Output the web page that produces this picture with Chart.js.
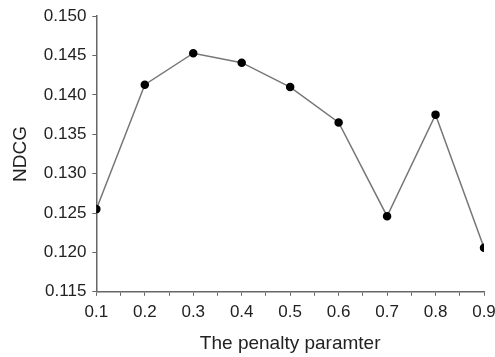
<!DOCTYPE html>
<html>
<head>
<meta charset="utf-8">
<script src="https://cdn.jsdelivr.net/npm/chart.js@4/dist/chart.umd.min.js"></script>
<style>
  html, body { margin: 0; padding: 0; background: #fff; }
  #wrap { width: 495px; height: 357px; }
</style>
</head>
<body>
<div id="wrap"><canvas id="myChart" width="495" height="357"></canvas></div>
<script>
// data block
const penalty = [0.1, 0.2, 0.3, 0.4, 0.5, 0.6, 0.7, 0.8, 0.9];
const ndcg = [0.1255, 0.1413, 0.1453, 0.1441, 0.1410, 0.1365, 0.1246, 0.1375, 0.1206];
const xLabels = ["0.1", "0.2", "0.3", "0.4", "0.5", "0.6", "0.7", "0.8", "0.9"];

const points = penalty.map((p, i) => ({ x: p, y: ndcg[i] }));
const family = "'Liberation Sans', Arial, sans-serif";
const tickFont = { family: family, size: 17 };
const titleFont = { family: family, size: 19 };

// config block
const config = {
  type: "line",
  data: {
    datasets: [
      {
        label: "NDCG",
        data: points,
        borderColor: "#777",
        borderWidth: 1.5,
        pointBackgroundColor: "#000",
        pointBorderColor: "#000",
        pointRadius: 3.5,
        tension: 0,
      },
    ],
  },
  options: {
    responsive: false,
    animation: false,
    layout: { padding: { left: 9, right: 11, top: 4, bottom: 2 } },
    plugins: { legend: { display: false }, tooltip: { enabled: false } },
    scales: {
      x: {
        type: "linear",
        min: 0.1,
        max: 0.9,
        border: { color: "#666", width: 1.5 },
        grid: { drawOnChartArea: false, tickLength: 4, color: "#666" },
        // let the last label run close to the canvas edge like the original
        afterFit: (scale) => { scale.paddingRight = 0; },
        ticks: {
          stepSize: 0.05,
          autoSkip: false,
          maxRotation: 0,
          color: "#222",
          font: tickFont,
          padding: 6,
          callback: (v) => {
            const k = Math.round(v * 100);
            return k % 10 === 0 ? xLabels[k / 10 - 1] : "";
          },
        },
        title: { display: true, text: "The penalty paramter", color: "#222", font: titleFont, padding: { top: 4, bottom: 0 } },
      },
      y: {
        min: 0.115,
        max: 0.15,
        border: { color: "#666", width: 1.5 },
        grid: { drawOnChartArea: false, tickLength: 4, color: "#666" },
        ticks: {
          stepSize: 0.005,
          color: "#222",
          font: tickFont,
          padding: 6,
          callback: (v) => v.toFixed(3),
        },
        title: { display: true, text: "NDCG", color: "#222", font: titleFont, padding: { top: 0, bottom: 6 } },
      },
    },
  },
};

// render init block
const ctx = document.getElementById("myChart");
const myChart = new Chart(ctx, config);
</script>
</body>
</html>
